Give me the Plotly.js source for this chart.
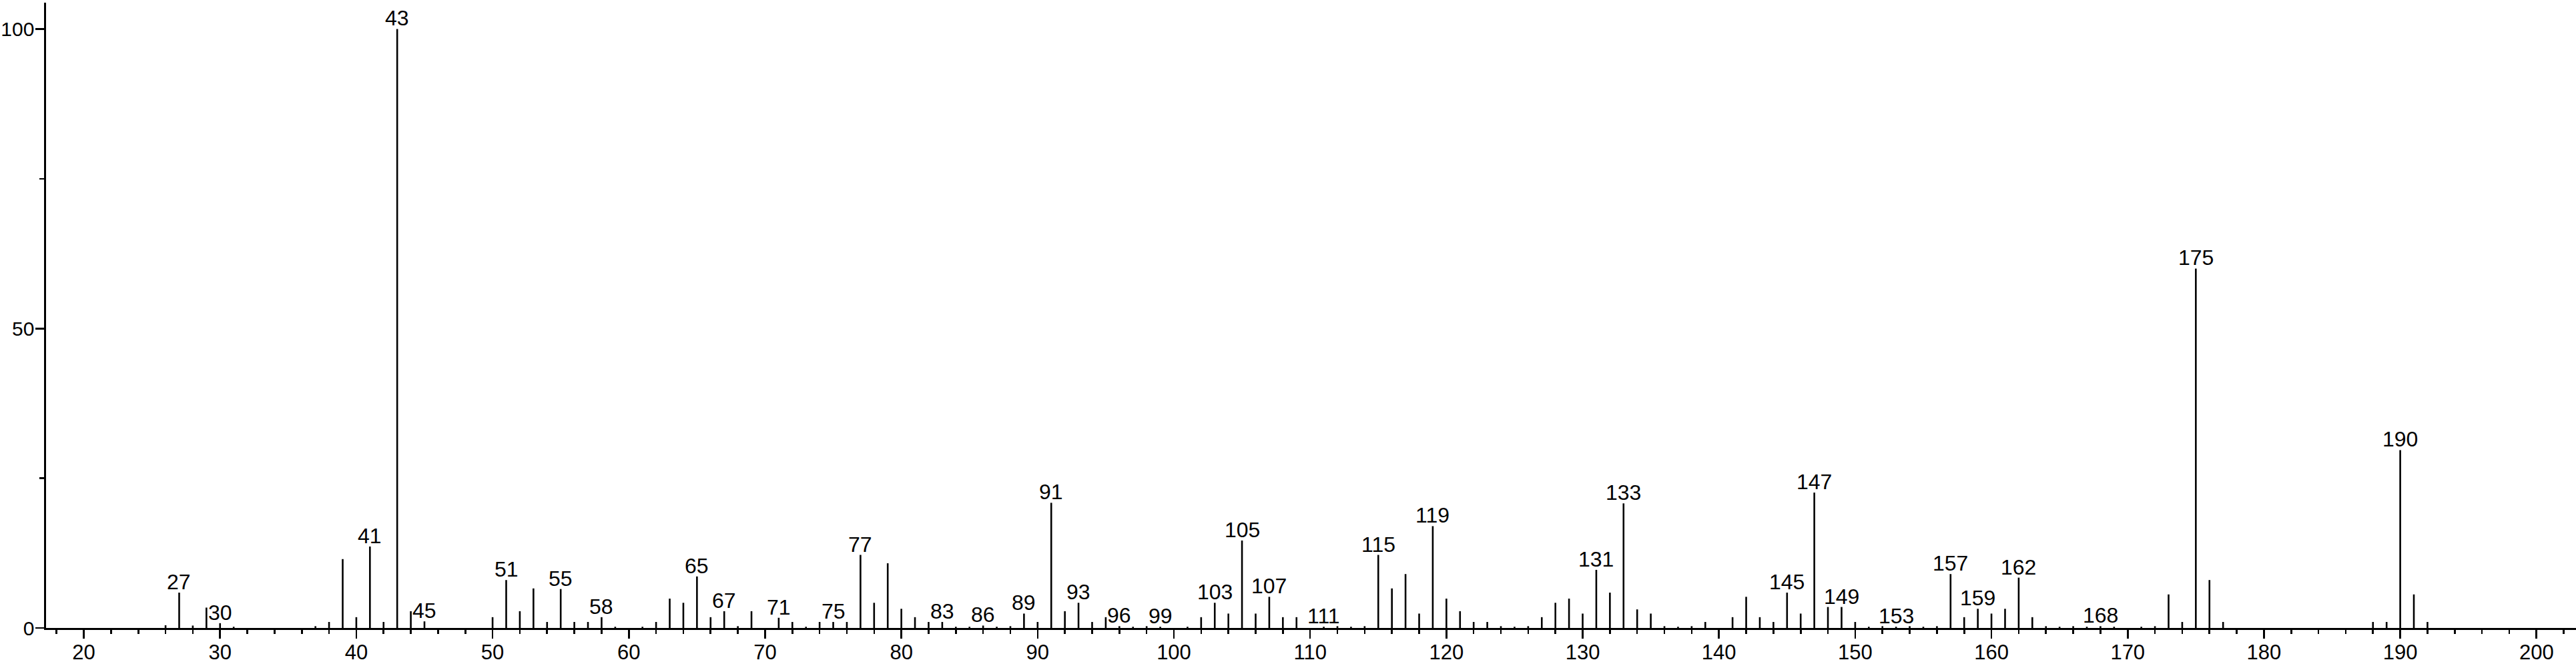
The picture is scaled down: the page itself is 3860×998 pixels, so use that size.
<!DOCTYPE html>
<html><head><meta charset="utf-8">
<script src="https://cdn.plot.ly/plotly-3.0.1.min.js"></script>
<style>html,body{margin:0;padding:0;background:#fff;} #chart{width:3860px;height:998px;}</style>
</head><body><div id="chart"></div>
<script>
const mz = [26,27,28,29,30,31,37,38,39,40,41,42,43,44,45,
  50,51,52,53,54,55,56,57,58,59,61,62,63,64,65,66,67,68,69,71,72,73,74,75,76,77,78,79,
  80,81,82,83,84,85,86,87,88,89,90,91,92,93,94,95,96,97,98,99,101,102,103,104,105,106,107,108,109,
  111,112,113,114,115,116,117,118,119,120,121,122,123,124,125,126,127,128,129,130,131,132,133,134,135,136,137,138,139,
  141,142,143,144,145,146,147,148,149,150,151,152,153,154,155,156,157,158,159,160,161,162,163,164,165,166,167,168,169,
  171,172,173,174,175,176,177,188,189,190,191,192];
const intensity = [0.45,5.9,0.4,3.4,0.8,0.2,0.3,1.0,11.5,1.8,13.6,1.0,100,2.8,1.1,
  1.8,8.0,2.8,6.6,1.0,6.5,1.0,1.0,1.8,0.2,0.2,1.0,4.9,4.2,8.6,1.8,2.8,0.3,2.8,1.7,1.0,0.2,1.0,1.0,1.0,12.2,4.2,10.8,
  3.2,1.8,1.0,1.0,0.2,0.2,0.4,0.2,0.3,2.4,1.0,20.9,2.8,4.2,1.0,1.8,0.3,0.2,0.3,0.2,0.2,1.8,4.2,2.4,14.6,2.4,5.2,1.8,1.8,
  0.2,0.3,0.2,0.3,12.2,6.6,9.0,2.4,17.0,4.9,2.8,1.0,1.0,0.3,0.2,0.3,1.8,4.2,4.9,2.4,9.7,5.9,20.8,3.1,2.4,0.3,0.2,0.3,1.0,
  1.8,5.2,1.8,1.0,5.9,2.4,22.6,3.5,3.5,1.0,0.2,0.3,0.2,0.3,0.2,0.3,9.0,1.8,3.2,2.4,3.2,8.4,1.8,0.3,0.2,0.3,0.2,0.3,0.2,
  0.2,0.3,5.6,1.0,60.0,8.0,1.0,1.0,1.0,29.7,5.6,1.0];
const labeledMz = [27,30,41,43,45,51,55,58,65,67,71,75,77,83,86,89,91,93,96,99,103,105,107,111,
  115,119,131,133,145,147,149,153,157,159,162,168,175,190];
const xTickVals = [20,30,40,50,60,70,80,90,100,110,120,130,140,150,160,170,180,190,200];
const yTickVals = [0,50,100];

const FONT = 'Liberation Sans, Arial, sans-serif';
const sx = [], sy = [];
mz.forEach((m, i) => { sx.push(m, m, null); sy.push(0, intensity[i], null); });

const annotations = labeledMz.map(m => {
  const i = mz.indexOf(m);
  return {x: m, y: intensity[i], xref: 'x', yref: 'y', text: String(m), showarrow: false,
    xanchor: 'center', yanchor: 'bottom', yshift: -4,
    font: {family: FONT, size: 32, color: '#000'}};
});

const trace = {x: sx, y: sy, type: 'scatter', mode: 'lines',
  line: {color: '#000', width: 2.6}, hoverinfo: 'skip', cliponaxis: false, showlegend: false};

const layout = {
  width: 3860, height: 998,
  margin: {l: 69, r: 0, t: 4, b: 57, pad: 0},
  paper_bgcolor: '#fff', plot_bgcolor: '#fff',
  showlegend: false,
  xaxis: {range: [17.23, 202.9], showline: true, linecolor: '#000', linewidth: 2.6,
    ticks: 'outside', ticklen: 13, tickwidth: 2.6, tickcolor: '#000',
    tickmode: 'array', tickvals: xTickVals, ticktext: xTickVals.map(String),
    ticklabelstandoff: -6,
    minor: {ticks: 'outside', dtick: 2, tick0: 0, ticklen: 6, tickwidth: 2.6, tickcolor: '#000', showgrid: false},
    showgrid: false, zeroline: false,
    tickfont: {family: FONT, size: 31, color: '#000'}},
  yaxis: {range: [0, 104.4], showline: true, linecolor: '#000', linewidth: 2.6,
    ticks: 'outside', ticklen: 13, tickwidth: 2.6, tickcolor: '#000',
    tickmode: 'array', tickvals: yTickVals, ticktext: yTickVals.map(String),
    ticklabelstandoff: -4,
    minor: {ticks: 'outside', dtick: 25, tick0: 0, ticklen: 7, tickwidth: 2.6, tickcolor: '#000', showgrid: false},
    showgrid: false, zeroline: false,
    tickfont: {family: FONT, size: 30, color: '#000'}},
  annotations: annotations
};

Plotly.newPlot('chart', [trace], layout, {staticPlot: true, displayModeBar: false});
</script></body></html>
